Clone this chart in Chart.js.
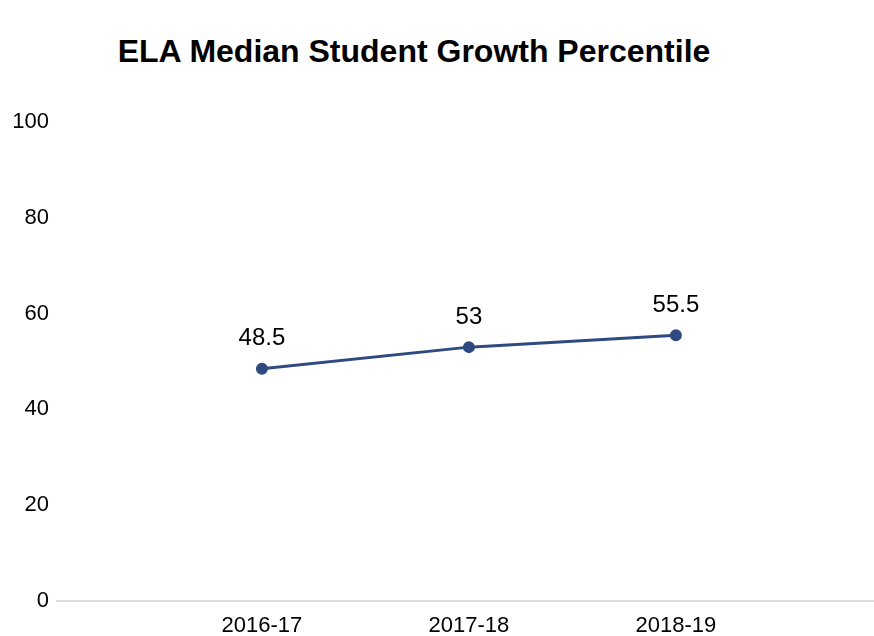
<!DOCTYPE html>
<html>
<head>
<meta charset="utf-8">
<script src="https://cdn.jsdelivr.net/npm/chart.js@4/dist/chart.umd.min.js"></script>
<style>
  html, body { margin: 0; padding: 0; background: #fff; overflow: hidden; }
  #wrap { position: relative; width: 874px; height: 636px; }
  #title {
    position: absolute; left: 0; top: 33px; width: 828px; text-align: center;
    font: bold 32px "Liberation Sans", Arial, sans-serif; color: #000;
  }
  canvas { position: absolute; left: 0; top: 0; }
</style>
</head>
<body>
<div id="wrap">
  <div id="title">ELA Median Student Growth Percentile</div>
  <canvas id="c" width="874" height="636"></canvas>
</div>
<script>
'use strict';

const years  = ['2016-17', '2017-18', '2018-19'];
const growth = [48.5, 53, 55.5];
const yTicks = [0, 20, 40, 60, 80, 100];

const FONT = '"Liberation Sans", Arial, sans-serif';

// draws the value above each point
const valueLabels = {
  id: 'valueLabels',
  afterDatasetsDraw(chart) {
    const ctx = chart.ctx;
    const meta = chart.getDatasetMeta(0);
    ctx.save();
    ctx.font = '24px ' + FONT;
    ctx.fillStyle = '#000';
    ctx.textAlign = 'center';
    ctx.textBaseline = 'middle';
    meta.data.forEach((pt, i) => {
      ctx.fillText(String(growth[i]), pt.x, pt.y - 30);
    });
    ctx.restore();
  }
};

new Chart(document.getElementById('c'), {
  type: 'line',
  data: {
    datasets: [{
      data: growth.map((v, i) => ({ x: i + 1, y: v })),
      borderColor: '#2e4a80',
      backgroundColor: '#2e4a80',
      borderWidth: 3,
      pointRadius: 4.5,
      pointHoverRadius: 4.5,
      tension: 0,
    }],
  },
  options: {
    responsive: false,
    animation: false,
    layout: { autoPadding: false, padding: { top: 122, right: 0, left: 0, bottom: 0 } },
    plugins: { legend: { display: false }, tooltip: { enabled: false }, title: { display: false } },
    scales: {
      x: {
        type: 'linear', min: 0.01, max: 3.957,
        afterBuildTicks: s => { s.ticks = years.map((_, i) => ({ value: i + 1 })); },
        afterFit: s => { s.height = 35; },
        ticks: {
          callback: v => years[v - 1] ?? '',
          color: '#000', font: { family: FONT, size: 22 }, padding: 12, maxRotation: 0,
        },
        grid: { display: false, drawTicks: false },
        border: { display: true, color: '#dddddd', width: 2 },
      },
      y: {
        min: 0, max: 100,
        afterBuildTicks: s => { s.ticks = yTicks.map(v => ({ value: v })); },
        afterFit: s => { s.width = 57; },
        ticks: { color: '#000', font: { family: FONT, size: 22 }, padding: 8 },
        grid: { display: false, drawTicks: false },
        border: { display: false },
      },
    },
  },
  plugins: [valueLabels],
});
</script>
</body>
</html>
